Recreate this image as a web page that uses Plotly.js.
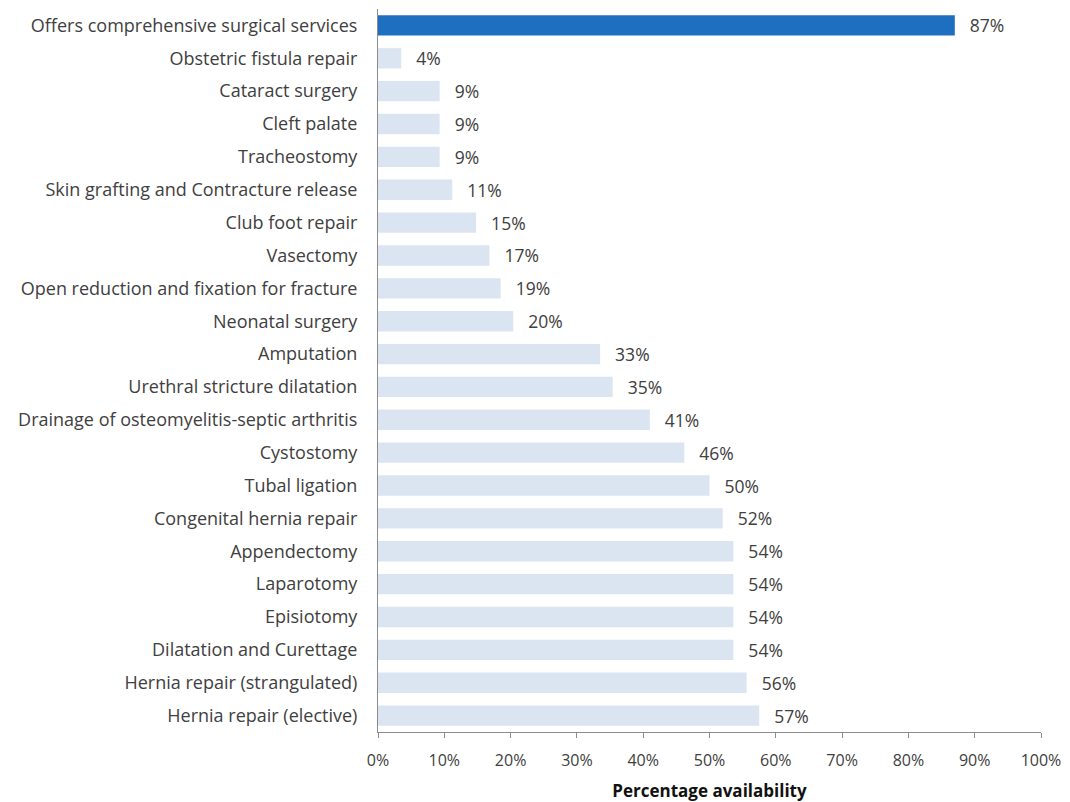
<!DOCTYPE html>
<html>
<head>
<meta charset="utf-8">
<script src="https://cdn.plot.ly/plotly-3.0.1.min.js"></script>
<style>html,body{margin:0;padding:0;background:#fff;}#chart{width:1070px;height:802px;}</style>
</head>
<body>
<div id="chart"></div>
<script>
const categories = [
  "Offers comprehensive surgical services",
  "Obstetric fistula repair",
  "Cataract surgery",
  "Cleft palate",
  "Tracheostomy",
  "Skin grafting and Contracture release",
  "Club foot repair",
  "Vasectomy",
  "Open reduction and fixation for fracture",
  "Neonatal surgery",
  "Amputation",
  "Urethral stricture dilatation",
  "Drainage of osteomyelitis-septic arthritis",
  "Cystostomy",
  "Tubal ligation",
  "Congenital hernia repair",
  "Appendectomy",
  "Laparotomy",
  "Episiotomy",
  "Dilatation and Curettage",
  "Hernia repair (strangulated)",
  "Hernia repair (elective)"
];
const values = [87, 4, 9, 9, 9, 11, 15, 17, 19, 20, 33, 35, 41, 46, 50, 52, 54, 54, 54, 54, 56, 57];
const barValues = [0.87, 0.035, 0.093, 0.093, 0.093, 0.112, 0.148, 0.168, 0.185, 0.204, 0.335, 0.354, 0.41, 0.462, 0.50, 0.52, 0.536, 0.536, 0.536, 0.536, 0.556, 0.575];
const tickVals = [0,0.1,0.2,0.3,0.4,0.5,0.6,0.7,0.8,0.9,1.0];
const tickText = ["0%","10%","20%","30%","40%","50%","60%","70%","80%","90%","100%"];

const colors = categories.map((c,i) => i === 0 ? "#1f6fc1" : "#dbe5f1");
const font = "'Open Sans', sans-serif";

const trace = {
  type: "bar",
  orientation: "h",
  y: categories,
  x: barValues,
  marker: {color: colors, line: {width: 0}},
  text: values.map(v => "  \u2009" + v + "%"),
  textposition: "outside",
  constraintext: "none",
  textfont: {family: font, size: 17.5, color: "#404040"},
  cliponaxis: false,
  hoverinfo: "none"
};

const layout = {
  width: 1070, height: 802,
  margin: {l: 378, r: 29, t: 9, b: 70},
  paper_bgcolor: "#fff", plot_bgcolor: "#fff",
  showlegend: false,
  bargap: 0.38,
  font: {family: font, size: 14, color: "#404040"},
  xaxis: {
    range: [0, 1], tickvals: tickVals, ticktext: tickText,
    showgrid: false, zeroline: false,
    showline: true, linecolor: "#8c8c8c", linewidth: 1,
    ticks: "outside", ticklen: 5, tickcolor: "#8c8c8c",
    ticklabelstandoff: 9,
    tickfont: {family: font, size: 16, color: "#404040"},
    title: {text: "<b>Percentage availability</b>", font: {family: font, size: 17, color: "#111"}, standoff: 14}
  },
  yaxis: {
    autorange: "reversed",
    showgrid: false, zeroline: false,
    showline: true, linecolor: "#8c8c8c", linewidth: 1,
    ticks: "", ticklabelstandoff: 16,
    tickfont: {family: font, size: 18, color: "#404040"}
  }
};

Plotly.newPlot("chart", [trace], layout, {displayModeBar: false, staticPlot: true});
</script>
</body>
</html>
